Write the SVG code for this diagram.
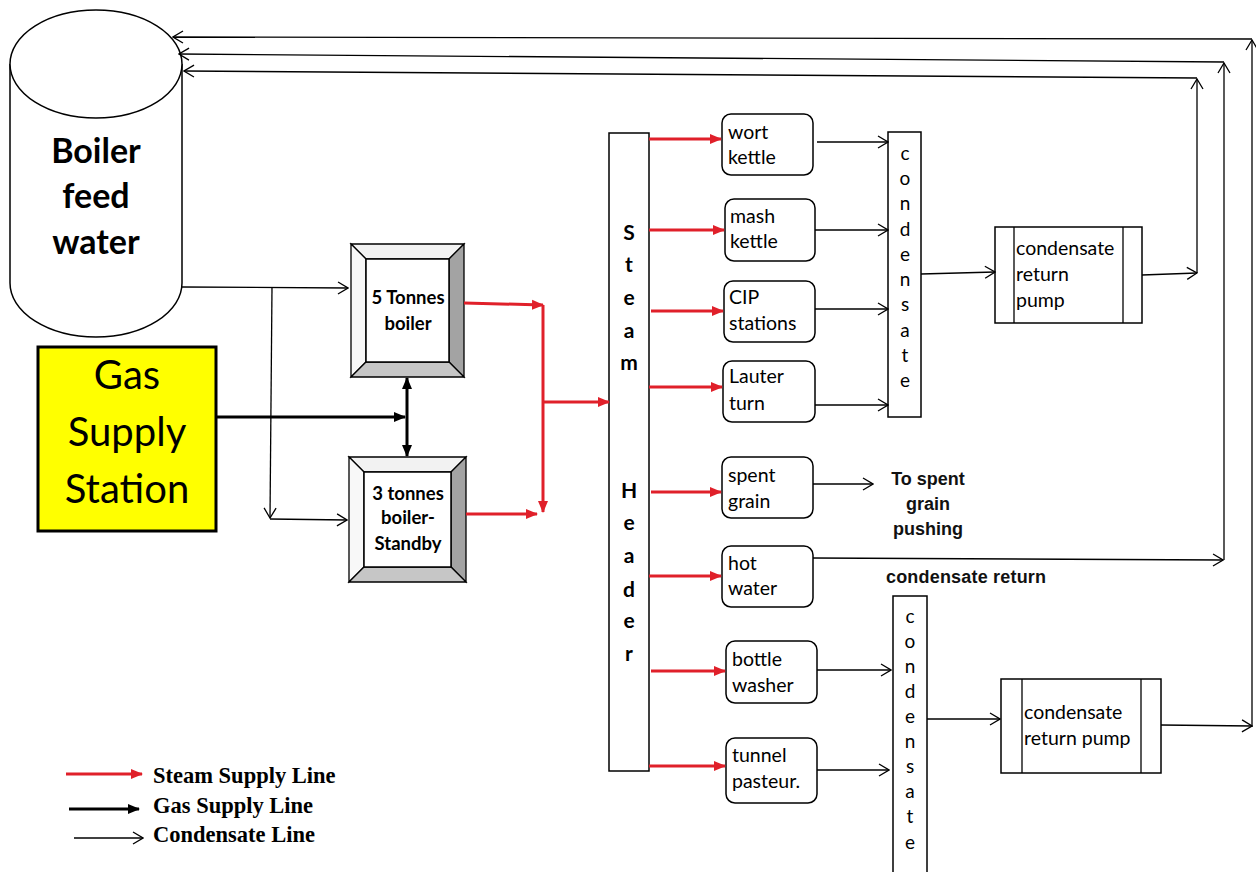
<svg xmlns="http://www.w3.org/2000/svg" width="1256" height="872" viewBox="0 0 1256 872">
<style>
.ln{stroke:#000;stroke-width:1.3;fill:none}
.thin{stroke:#000;stroke-width:1.3;fill:none;marker-end:url(#open)}
.red{stroke:#e0202a;stroke-width:3;fill:none;marker-end:url(#redh)}
.gas{stroke:#000;stroke-width:3;fill:none}
.box{fill:#fff;stroke:#000;stroke-width:1.5}
.t{font-family:Lato,"Open Sans",sans-serif;font-size:19.5px;fill:#000}
.tb{font-family:Lato,"Open Sans",sans-serif;font-size:18.5px;font-weight:bold;fill:#000}
.vl{font-family:Lato,"Open Sans",sans-serif;font-size:21px;font-weight:bold;fill:#000;text-anchor:middle}
.vc{font-family:Lato,"Open Sans",sans-serif;font-size:19px;fill:#000;text-anchor:middle}
.ar{font-family:"Liberation Sans",Arial,sans-serif;font-size:18px;font-weight:bold;fill:#111}
.lg{font-family:"Liberation Serif","Times New Roman",serif;font-size:22.5px;font-weight:bold;fill:#000}
</style>
<defs>
<marker id="open" viewBox="0 0 12 14" refX="11" refY="7" markerWidth="12" markerHeight="14" markerUnits="userSpaceOnUse" orient="auto">
<path d="M1,1 L11,7 L1,13" fill="none" stroke="#000" stroke-width="1.3"/>
</marker>
<marker id="redh" viewBox="0 0 12 12" refX="11" refY="6" markerWidth="12" markerHeight="12" markerUnits="userSpaceOnUse" orient="auto">
<path d="M0,1 L12,6 L0,11 Z" fill="#e0202a"/>
</marker>
<marker id="blkh" viewBox="0 0 12 12" refX="11" refY="6" markerWidth="12" markerHeight="12" markerUnits="userSpaceOnUse" orient="auto">
<path d="M0,1 L12,6 L0,11 Z" fill="#000"/>
</marker>
<marker id="blks" viewBox="0 0 12 12" refX="11" refY="6" markerWidth="12" markerHeight="12" markerUnits="userSpaceOnUse" orient="auto-start-reverse">
<path d="M0,1 L12,6 L0,11 Z" fill="#000"/>
</marker>
</defs>

<g id="boiler-feed-water">
<path d="M10,64 L10,283 A86,54 0 0 0 182,283 L182,64" class="box"/>
<ellipse cx="96" cy="64" rx="86" ry="54" class="box"/>
<text x="96" y="163" text-anchor="middle" style="font-family:Lato,sans-serif;font-size:34px;font-weight:bold">Boiler</text>
<text x="96" y="208" text-anchor="middle" style="font-family:Lato,sans-serif;font-size:34px;font-weight:bold">feed</text>
<text x="96" y="254" text-anchor="middle" style="font-family:Lato,sans-serif;font-size:34px;font-weight:bold">water</text>
</g>

<g id="gas-supply-station">
<rect x="38" y="347" width="178" height="184" fill="#ffff00" stroke="#000" stroke-width="3"/>
<text x="127" y="389" text-anchor="middle" style="font-family:Lato,sans-serif;font-size:40px">Gas</text>
<text x="127" y="446" text-anchor="middle" style="font-family:Lato,sans-serif;font-size:40px">Supply</text>
<text x="127" y="503" text-anchor="middle" style="font-family:Lato,sans-serif;font-size:40px">Station</text>
</g>

<g id="boiler-5t">
<polygon points="351,244 464,244 449,259 366,259" fill="#f2f2f2" stroke="#000" stroke-width="1.3"/>
<polygon points="351,244 366,259 366,362 351,377" fill="#f8f8f8" stroke="#000" stroke-width="1.3"/>
<polygon points="464,244 464,377 449,362 449,259" fill="#a3a3a3" stroke="#000" stroke-width="1.3"/>
<polygon points="351,377 366,362 449,362 464,377" fill="#c6c6c6" stroke="#000" stroke-width="1.3"/>
<rect x="366" y="259" width="83" height="103" class="box"/>
<text x="408" y="304" text-anchor="middle" class="tb">5 Tonnes</text>
<text x="408" y="330" text-anchor="middle" class="tb">boiler</text>
</g>

<g id="boiler-3t">
<polygon points="349,457 466,457 451,472 364,472" fill="#f2f2f2" stroke="#000" stroke-width="1.3"/>
<polygon points="349,457 364,472 364,567 349,582" fill="#f8f8f8" stroke="#000" stroke-width="1.3"/>
<polygon points="466,457 466,582 451,567 451,472" fill="#a3a3a3" stroke="#000" stroke-width="1.3"/>
<polygon points="349,582 364,567 451,567 466,582" fill="#c6c6c6" stroke="#000" stroke-width="1.3"/>
<rect x="364" y="472" width="87" height="95" class="box"/>
<text x="408" y="500" text-anchor="middle" class="tb">3 tonnes</text>
<text x="408" y="524" text-anchor="middle" class="tb">boiler-</text>
<text x="408" y="550" text-anchor="middle" class="tb">Standby</text>
</g>

<g id="steam-header">
<rect x="609" y="133" width="40" height="638" class="box"/>
<text x="629" y="240" class="vl">S</text>
<text x="629" y="272" class="vl">t</text>
<text x="629" y="305" class="vl">e</text>
<text x="629" y="338" class="vl">a</text>
<text x="629" y="370" class="vl">m</text>
<text x="629" y="498" class="vl">H</text>
<text x="629" y="530" class="vl">e</text>
<text x="629" y="563" class="vl">a</text>
<text x="629" y="597" class="vl">d</text>
<text x="629" y="628" class="vl">e</text>
<text x="629" y="661" class="vl">r</text>
</g>

<g id="wort-kettle"><rect x="722" y="114" width="91" height="61" rx="9" class="box"/><text x="728" y="139" class="t">wort</text><text x="728" y="164" class="t">kettle</text></g>
<g id="mash-kettle"><rect x="725" y="199" width="90" height="62" rx="9" class="box"/><text x="730" y="223" class="t">mash</text><text x="730" y="248" class="t">kettle</text></g>
<g id="cip-stations"><rect x="724" y="281" width="91" height="61" rx="9" class="box"/><text x="729" y="304" class="t">CIP</text><text x="729" y="330" class="t">stations</text></g>
<g id="lauter-turn"><rect x="723" y="361" width="92" height="61" rx="9" class="box"/><text x="729" y="383" class="t">Lauter</text><text x="729" y="410" class="t">turn</text></g>
<g id="spent-grain"><rect x="722" y="457" width="91" height="61" rx="9" class="box"/><text x="728" y="482" class="t">spent</text><text x="728" y="508" class="t">grain</text></g>
<g id="hot-water"><rect x="722" y="546" width="91" height="61" rx="9" class="box"/><text x="728" y="570" class="t">hot</text><text x="728" y="595" class="t">water</text></g>
<g id="bottle-washer"><rect x="726" y="641" width="91" height="62" rx="9" class="box"/><text x="732" y="666" class="t">bottle</text><text x="732" y="692" class="t">washer</text></g>
<g id="tunnel-pasteur"><rect x="726" y="738" width="91" height="65" rx="9" class="box"/><text x="732" y="762" class="t">tunnel</text><text x="732" y="788" class="t">pasteur.</text></g>

<g id="condensate-1">
<rect x="888" y="132" width="33" height="285" class="box"/>
<text x="905" y="160" class="vc">c</text>
<text x="905" y="185" class="vc">o</text>
<text x="905" y="210" class="vc">n</text>
<text x="905" y="236" class="vc">d</text>
<text x="905" y="261" class="vc">e</text>
<text x="905" y="286" class="vc">n</text>
<text x="905" y="311" class="vc">s</text>
<text x="905" y="337" class="vc">a</text>
<text x="905" y="362" class="vc">t</text>
<text x="905" y="387" class="vc">e</text>
</g>

<g id="condensate-2">
<rect x="893" y="596" width="34" height="290" class="box"/>
<text x="910" y="623" class="vc">c</text>
<text x="910" y="648" class="vc">o</text>
<text x="910" y="673" class="vc">n</text>
<text x="910" y="698" class="vc">d</text>
<text x="910" y="723" class="vc">e</text>
<text x="910" y="748" class="vc">n</text>
<text x="910" y="773" class="vc">s</text>
<text x="910" y="798" class="vc">a</text>
<text x="910" y="823" class="vc">t</text>
<text x="910" y="849" class="vc">e</text>
</g>

<g id="pump-1">
<rect x="995" y="227" width="147" height="96" class="box"/>
<line x1="1014" y1="227" x2="1014" y2="323" class="ln"/>
<line x1="1123" y1="227" x2="1123" y2="323" class="ln"/>
<text x="1016" y="255" class="t">condensate</text>
<text x="1016" y="281" class="t">return</text>
<text x="1016" y="307" class="t">pump</text>
</g>

<g id="pump-2">
<rect x="1001" y="679" width="160" height="94" class="box"/>
<line x1="1022" y1="679" x2="1022" y2="773" class="ln"/>
<line x1="1141" y1="679" x2="1141" y2="773" class="ln"/>
<text x="1024" y="719" class="t">condensate</text>
<text x="1024" y="745" class="t">return pump</text>
</g>

<g id="labels">
<text x="928" y="485" text-anchor="middle" class="ar">To spent</text>
<text x="928" y="510" text-anchor="middle" class="ar">grain</text>
<text x="928" y="535" text-anchor="middle" class="ar">pushing</text>
<text x="886" y="583" class="ar" textLength="160">condensate return</text>
</g>

<g id="connectors">
<path d="M182,287 L348,288" class="thin"/>
<path d="M272,287 L270,518" class="thin"/>
<path d="M270,519 L347,520" class="thin"/>
<path d="M216,417 L405,417" class="gas" marker-end="url(#blkh)"/>
<path d="M407,378 L407,456" class="gas" marker-start="url(#blks)" marker-end="url(#blkh)"/>
<path d="M464,303 L543,305" class="red"/>
<path d="M543,305 L543,512" class="red"/>
<path d="M466,514 L537,514" class="red"/>
<path d="M543,402 L609,402" class="red"/>
<path d="M649,139 L721,139" class="red"/>
<path d="M649,230 L724,230" class="red"/>
<path d="M651,311 L723,311" class="red"/>
<path d="M649,387 L722,387" class="red"/>
<path d="M651,492 L721,492" class="red"/>
<path d="M649,576 L721,576" class="red"/>
<path d="M651,671 L725,671" class="red"/>
<path d="M649,766 L725,766" class="red"/>
<path d="M817,142 L888,142" class="thin"/>
<path d="M815,230 L888,230" class="thin"/>
<path d="M815,309 L888,309" class="thin"/>
<path d="M815,405 L888,405" class="thin"/>
<path d="M921,274 L995,272" class="thin"/>
<path d="M1142,275 L1197,273" class="thin"/>
<path d="M1197,273 L1197,79" class="thin"/>
<path d="M1197,78 L184,71" class="thin"/>
<path d="M813,484 L873,484" class="thin"/>
<path d="M813,558 L1223,560" class="thin"/>
<path d="M1224,560 L1224,63" class="thin"/>
<path d="M1224,62 L179,54" class="thin"/>
<path d="M817,670 L891,670" class="thin"/>
<path d="M817,770 L889,770" class="thin"/>
<path d="M927,719 L1000,719" class="thin"/>
<path d="M1161,725 L1252,726" class="thin"/>
<path d="M1252,727 L1252,40" class="thin"/>
<path d="M1252,39 L173,37" class="thin"/>
</g>

<g id="legend">
<path d="M66,774 L142,774" class="red"/>
<path d="M69,809 L139,809" class="gas" marker-end="url(#blkh)"/>
<path d="M74,838 L143,838" class="thin"/>
<text x="153" y="783" class="lg">Steam Supply Line</text>
<text x="153" y="813" class="lg">Gas Supply Line</text>
<text x="153" y="842" class="lg">Condensate Line</text>
</g>
</svg>
